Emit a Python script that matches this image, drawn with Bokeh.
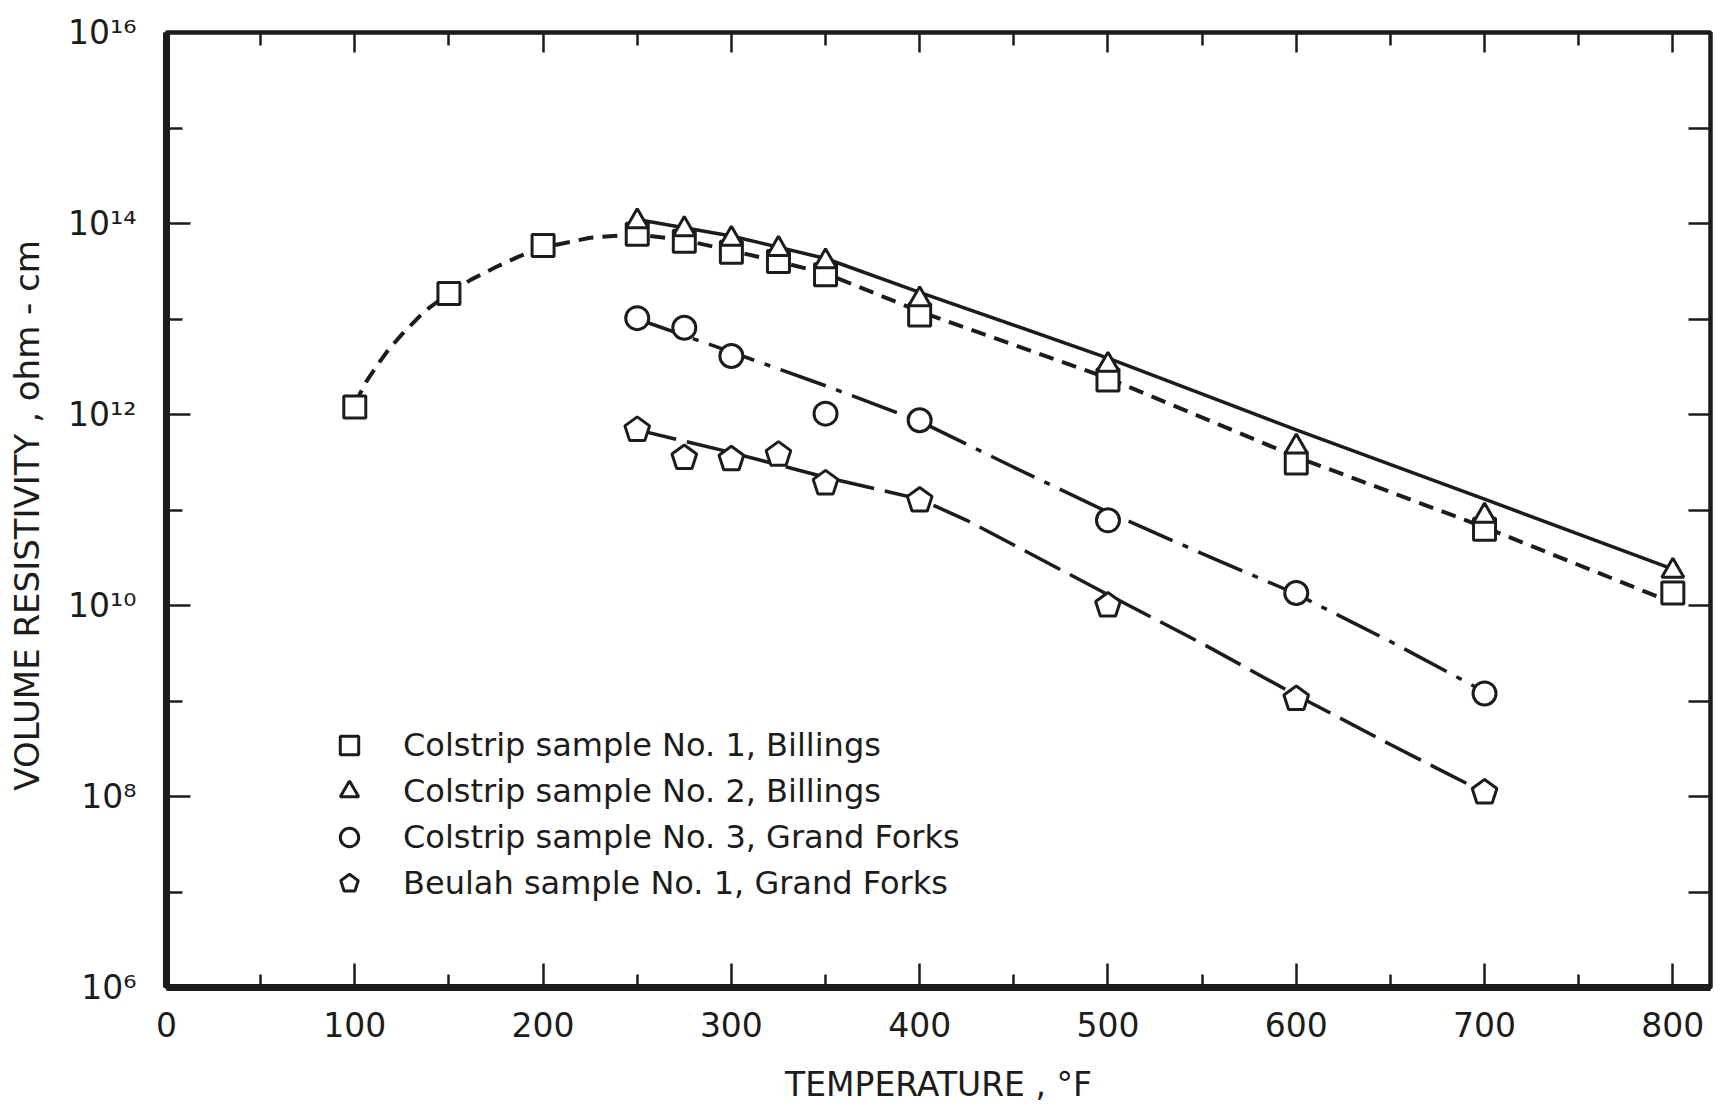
import math
from bokeh.plotting import figure
from bokeh.models import (LogAxis, LinearAxis, FixedTicker, CustomJSTickFormatter,
                          Legend, LegendItem, Range1d, ColumnDataSource)
from bokeh.embed import file_html
from bokeh.resources import INLINE

# ---------------- data ----------------
temp_s1 = [100, 150, 200, 250, 275, 300, 325, 350, 400, 500, 600, 700, 800]
res_s1 = [1.2e12, 1.85e13, 5.9e13, 7.7e13, 6.5e13, 5.0e13, 4.0e13, 2.9e13, 1.1e13,
          2.3e12, 3.1e11, 6.3e10, 1.35e10]
temp_s2 = [250, 275, 300, 325, 350, 400, 500, 600, 700, 800]
res_s2 = [1.05e14, 8.7e13, 6.9e13, 5.4e13, 4.0e13, 1.6e13, 3.3e12, 4.6e11, 8.7e10, 2.3e10]
temp_s3 = [250, 275, 300, 350, 400, 500, 600, 700]
res_s3 = [1.02e13, 8.1e12, 4.1e12, 1.02e12, 8.7e11, 7.8e10, 1.35e10, 1.2e9]
temp_s4 = [250, 275, 300, 325, 350, 400, 500, 600, 700]
res_s4 = [6.9e11, 3.5e11, 3.4e11, 3.8e11, 1.9e11, 1.26e11, 1.0e10, 1.05e9, 1.1e8]

# fitted curves
curve1_t = [100, 106, 112, 118, 125, 137, 150, 162, 175, 187, 200, 225, 250, 275, 300,
            325, 350, 400, 500, 600, 700, 800]
curve1_v = [1.3e12, 2.2e12, 3.3e12, 4.8e12, 6.9e12, 1.2e13, 1.86e13, 2.6e13, 3.5e13,
            4.5e13, 5.6e13, 7.1e13, 7.7e13, 6.7e13, 5.2e13, 4.0e13, 3.0e13, 1.2e13,
            2.4e12, 3.6e11, 6.6e10, 1.07e10]
curve2_t = [250, 300, 350, 400, 500, 600, 700, 800]
curve2_v = [1.1e14, 7.4e13, 4.3e13, 1.9e13, 3.9e12, 6.9e11, 1.3e11, 2.4e10]
curve3_t = [250, 300, 350, 400, 450, 500, 550, 600, 650, 700]
curve3_v = [1.0e13, 4.5e12, 2.0e12, 8.5e11, 2.8e11, 9.5e10, 3.5e10, 1.32e10, 4.2e9, 1.25e9]
curve4_t = [250, 300, 350, 400, 425, 450, 500, 550, 600, 650, 700]
curve4_v = [6.9e11, 4.0e11, 2.2e11, 1.3e11, 7.8e10, 4.3e10, 1.3e10, 4.0e9, 1.15e9, 3.5e8, 1.1e8]

series_labels = ["Colstrip sample No. 1, Billings",
                 "Colstrip sample No. 2, Billings",
                 "Colstrip sample No. 3, Grand Forks",
                 "Beulah sample No. 1, Grand Forks"]

x_ticks = [0, 100, 200, 300, 400, 500, 600, 700, 800]
x_minor = [50, 150, 250, 350, 450, 550, 650, 750]
y_ticks = [1e6, 1e8, 1e10, 1e12, 1e14, 1e16]
y_tick_labels = ["10\u2076", "10\u2078", "10\u00b9\u2070", "10\u00b9\u00b2",
                 "10\u00b9\u2074", "10\u00b9\u2076"]
y_minor = [1e7, 1e9, 1e11, 1e13, 1e15]

x_title = "TEMPERATURE , \u00b0F"
y_title = "VOLUME  RESISTIVITY , ohm - cm"

FONT = "DejaVu Sans"
INK = "#1c1c1c"

p = figure(width=1715, height=1113, y_axis_type="log",
           x_range=Range1d(0, 820), y_range=Range1d(1e6, 1e16),
           output_backend="svg", toolbar_location=None,
           min_border_left=166, min_border_top=32, min_border_bottom=126,
           min_border_right=5)
p.grid.visible = False
p.outline_line_color = INK
p.outline_line_width = 4.5
p.background_fill_color = "white"
p.border_fill_color = "white"

# axes styling
xa = p.xaxis[0]
xa.ticker = FixedTicker(ticks=x_ticks, minor_ticks=x_minor)
xa.axis_line_width = 7
xa.axis_line_color = INK
xa.major_tick_in = 24
xa.major_tick_out = 0
xa.minor_tick_in = 13
xa.minor_tick_out = 0
xa.major_tick_line_width = 2.5
xa.minor_tick_line_width = 2.5
xa.major_tick_line_color = INK
xa.minor_tick_line_color = INK
xa.major_label_standoff = 24
xa.major_label_text_font = FONT
xa.major_label_text_font_size = "33px"
xa.major_label_text_color = INK
xa.axis_label = x_title
xa.axis_label_text_font = FONT
xa.axis_label_text_font_size = "33px"
xa.axis_label_text_font_style = "normal"
xa.axis_label_text_color = INK
xa.axis_label_standoff = 25

ya = p.yaxis[0]
ya.ticker = FixedTicker(ticks=y_ticks, minor_ticks=y_minor)
ya.formatter = CustomJSTickFormatter(args=dict(tvals=y_ticks, tlabels=y_tick_labels), code="""
    for (let i = 0; i < tvals.length; i++) {
        if (Math.abs(Math.log10(tvals[i]) - Math.log10(tick)) < 1e-6) { return tlabels[i]; }
    }
    return "";
""")
ya.axis_line_width = 7
ya.axis_line_color = INK
ya.major_tick_in = 24
ya.major_tick_out = 0
ya.minor_tick_in = 16
ya.minor_tick_out = 0
ya.major_tick_line_width = 2.5
ya.minor_tick_line_width = 2.5
ya.major_tick_line_color = INK
ya.minor_tick_line_color = INK
ya.major_label_standoff = 30
ya.major_label_text_font = FONT
ya.major_label_text_font_size = "33px"
ya.major_label_text_color = INK
ya.axis_label = y_title
ya.axis_label_text_font = FONT
ya.axis_label_text_font_size = "34px"
ya.axis_label_text_font_style = "normal"
ya.axis_label_text_color = INK
ya.axis_label_standoff = 18

blank = CustomJSTickFormatter(code="return '';")
# mirrored ticks on top and right
top = LinearAxis(ticker=FixedTicker(ticks=x_ticks, minor_ticks=x_minor),
                 formatter=blank, major_label_standoff=0,
                 axis_line_color=None, major_tick_in=20, major_tick_out=0,
                 minor_tick_in=13, minor_tick_out=0,
                 major_tick_line_width=2.5, minor_tick_line_width=2.5,
                 major_tick_line_color=INK, minor_tick_line_color=INK)
p.add_layout(top, "above")
right = LogAxis(ticker=FixedTicker(ticks=y_ticks, minor_ticks=y_minor),
                formatter=blank, major_label_standoff=0,
                axis_line_color=None, major_tick_in=22, major_tick_out=0,
                minor_tick_in=22, minor_tick_out=0,
                major_tick_line_width=2.5, minor_tick_line_width=2.5,
                major_tick_line_color=INK, minor_tick_line_color=INK)
p.add_layout(right, "right")

# curves
p.line(curve1_t, curve1_v, line_color=INK, line_width=4, line_dash="15 9")
p.line(curve2_t, curve2_v, line_color=INK, line_width=3.5)
p.line(curve3_t, curve3_v, line_color=INK, line_width=3.5, line_dash="48 11 6 11")
p.line(curve4_t, curve4_v, line_color=INK, line_width=3.5, line_dash="40 11")

# markers
r1 = p.scatter(temp_s1, res_s1, marker="square", size=22, fill_color="white",
               line_color=INK, line_width=3)
r2 = p.scatter(temp_s2, res_s2, marker="triangle", size=22, fill_color="white",
               line_color=INK, line_width=3)
r3 = p.scatter(temp_s3, res_s3, marker="circle", size=23, fill_color="white",
               line_color=INK, line_width=3)

src4 = ColumnDataSource(dict(x=temp_s4, y=res_s4))
r4 = p.ngon(x="x", y="y", radius=13, radius_units="screen", n=5, angle=0,
            fill_color="white", line_color=INK, line_width=3, source=src4)

legend = Legend(items=[LegendItem(label=series_labels[0], renderers=[r1]),
                       LegendItem(label=series_labels[1], renderers=[r2]),
                       LegendItem(label=series_labels[2], renderers=[r3]),
                       LegendItem(label=series_labels[3], renderers=[r4])],
                location=(158, 81), orientation="vertical",
                border_line_color=None, background_fill_alpha=0,
                label_text_font=FONT, label_text_font_size="32px",
                label_text_color=INK, label_standoff=29,
                glyph_width=50, glyph_height=46, label_height=46,
                spacing=0, padding=0, margin=0)
p.add_layout(legend, "center")

open("out.html", "w").write(file_html(p, INLINE))
